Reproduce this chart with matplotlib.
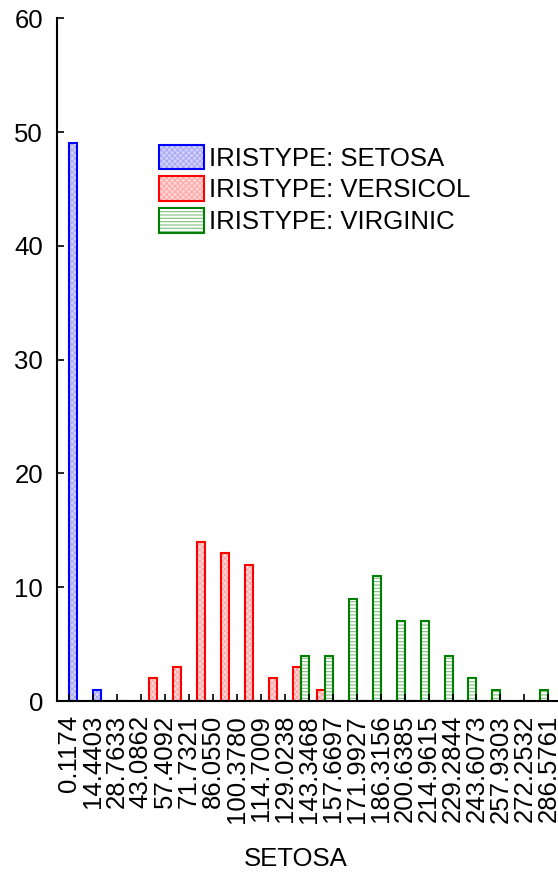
"""
Categorized histogram of the iris data (STATISTICA style).
"""

import matplotlib.pyplot as plt
import numpy as np
from matplotlib.legend_handler import HandlerTuple

plt.rcParams["font.family"] = ["Liberation Sans", "DejaVu Sans"]
plt.rcParams["hatch.linewidth"] = 0.8

# -----------------------------------------
# Data
# -----------------------------------------

bin_edges = [
    "0.1174", "14.4403", "28.7633", "43.0862", "57.4092", "71.7321",
    "86.0550", "100.3780", "114.7009", "129.0238", "143.3468",
    "157.6697", "171.9927", "186.3156", "200.6385", "214.9615",
    "229.2844", "243.6073", "257.9303", "272.2532", "286.5761",
]

setosa = [49, 1, 0, 0, 0, 0, 0, 0, 0, 0, 0, 0, 0, 0, 0, 0, 0, 0, 0, 0]
versicol = [0, 0, 0, 2, 3, 14, 13, 12, 2, 3, 1, 0, 0, 0, 0, 0, 0, 0, 0, 0]
virginic = [0, 0, 0, 0, 0, 0, 0, 0, 0, 4, 4, 9, 11, 7, 7, 4, 2, 1, 0, 1]

series_labels = [
    "IRISTYPE: SETOSA",
    "IRISTYPE: VERSICOL",
    "IRISTYPE: VIRGINIC",
]

x_label = "SETOSA"

# -----------------------------------------
# Styles
# -----------------------------------------

styles = [
    # edge, face, hatch colour, hatch
    ("#0000ff", "#d4d4fa", "#aaaaf4", "xxxxxx"),
    ("#ff0000", "#ffd8d8", "#ffa8a8", "xxxxxx"),
    ("#008000", "#ffffff", "#80bf80", "-----"),
]

# -----------------------------------------
# Figure
# -----------------------------------------

fig = plt.figure(figsize=(5.58, 8.72), dpi=100)

ax = fig.add_axes([0.102, 0.196, 0.898, 0.783])

x = np.arange(len(setosa))
width = 1 / 3

handles = []

for k, (values, (edge, face, hcol, hatch)) in enumerate(
    zip([setosa, versicol, virginic], styles)
):

    fill = ax.bar(
        x + k * width,
        values,
        width=width,
        align="edge",
        color=face,
        edgecolor=hcol,
        hatch=hatch,
        linewidth=0,
        zorder=1,
    )

    outline = ax.bar(
        x + k * width,
        values,
        width=width,
        align="edge",
        fill=False,
        edgecolor=edge,
        linewidth=1.5,
        zorder=1.5,
    )

    handles.append((fill[0], outline[0]))

# -----------------------------------------
# Axes
# -----------------------------------------

ax.set_xlim(-0.5, 20.4)
ax.set_ylim(0, 60)

ax.set_xticks(np.arange(len(bin_edges)))
ax.set_xticklabels(bin_edges, rotation=90)

ax.set_yticks(np.arange(0, 61, 10))

ax.tick_params(
    direction="in",
    length=5,
    width=1.2,
    labelsize=18.5,
    pad=10,
)

for side in ["top", "right"]:
    ax.spines[side].set_visible(False)

for side in ["left", "bottom"]:
    ax.spines[side].set_linewidth(1.5)

ax.set_xlabel(x_label, fontsize=18.5)
ax.xaxis.set_label_coords(0.477, -0.213)

# -----------------------------------------
# Legend
# -----------------------------------------

ax.legend(
    handles,
    series_labels,
    handler_map={tuple: HandlerTuple(ndivide=1, pad=0)},
    loc="upper left",
    bbox_to_anchor=(0.204, 0.815),
    frameon=False,
    fontsize=18.5,
    borderpad=0,
    borderaxespad=0,
    handlelength=1.75,
    handleheight=1.1,
    handletextpad=0.2,
    labelspacing=0.22,
)

fig.savefig("out.png", dpi=100)

plt.close(fig)
